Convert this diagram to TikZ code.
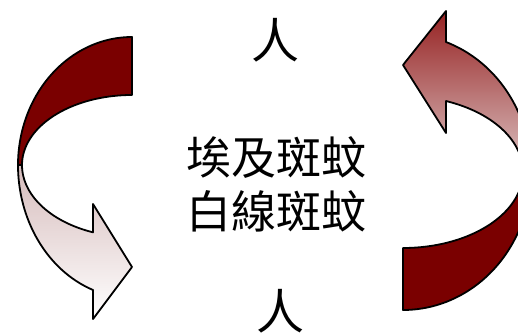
\documentclass[tikz,border=0pt]{standalone}
\usepackage{fontspec}
\newfontfamily\cjk{Noto Sans CJK TC}
\definecolor{darkred}{RGB}{122,0,0}
\definecolor{pinkL}{RGB}{214,188,188}
\definecolor{redR}{RGB}{150,34,34}
\definecolor{pinkR}{RGB}{220,196,196}
\tikzset{
  backband/.style={fill=darkred, draw=black, line width=1.8pt, line join=round},
  frontband/.style={draw=black, line width=1.8pt, line join=round},
  txt/.style={inner sep=0pt, text=black},
}
\begin{document}
\begin{tikzpicture}[x=1pt,y=-1pt]
\useasboundingbox (0,0) rectangle (518,334);
\clip (0,0) rectangle (518,334);
\fill[white] (0,0) rectangle (518,334);
% left arrow
\draw[backband] plot[domain=-90:-180, samples=60] ({132+114*cos(\x)},{165+128*sin(\x)})
  -- plot[domain=-180:-90, samples=60] ({132+110*cos(\x)},{165+70*sin(\x)}) -- cycle;
\shadedraw[frontband, top color=pinkL, bottom color=white]
  plot[domain=180:110, samples=60] ({132+114*cos(\x)},{165+133*sin(\x)})
  -- (93,319) -- (132,267) -- (93,204)
  -- plot[domain=110.8:180, samples=60] ({132+110*cos(\x)},{165+72*sin(\x)}) -- cycle;
% right arrow
\draw[backband] plot[domain=90:0, samples=60] ({403+128*cos(\x)},{172+138*sin(\x)})
  -- plot[domain=0:90, samples=60] ({403+120*cos(\x)},{172+76*sin(\x)}) -- cycle;
\shadedraw[frontband, top color=redR, bottom color=pinkR]
  plot[domain=0:-70.4, samples=60] ({403+128*cos(\x)},{172+138*sin(\x)})
  -- (446,11) -- (403,65) -- (446,133)
  -- plot[domain=-69:0, samples=60] ({403+120*cos(\x)},{172+76*sin(\x)}) -- cycle;
% texts
\node[txt, font=\cjk\fontsize{48}{54}\selectfont] (top) at (275,40) {人};
\node[txt, font=\cjk\fontsize{48}{54}\selectfont] (bot) at (280,311) {人};
\node[txt, align=center, font=\cjk\fontsize{45}{54}\selectfont] (mid) at (276,184) {埃及斑蚊\\白線斑蚊};
\end{tikzpicture}
\end{document}
